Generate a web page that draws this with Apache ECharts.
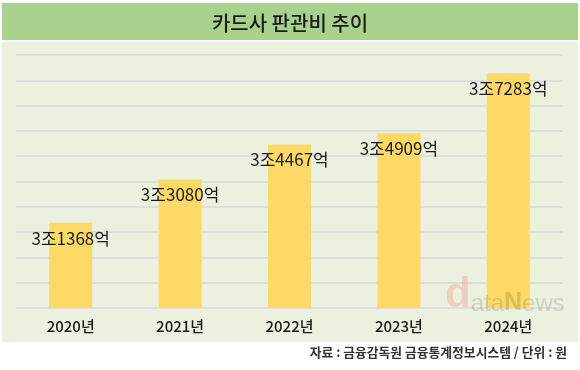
<!DOCTYPE html>
<html>
<head>
<meta charset="utf-8">
<script src="https://cdn.jsdelivr.net/npm/echarts@6/dist/echarts.min.js"></script>
<style>
html,body{margin:0;padding:0;background:#fff;}
#c{width:580px;height:370px;}
</style>
</head>
<body>
<div id="c"></div>
<script>
const categories = ['2020년', '2021년', '2022년', '2023년', '2024년'];
const values = [31368, 33080, 34467, 34909, 37283]; // 단위: 억 원
const titleText = '카드사 판관비 추이';
const sourceText = '자료 : 금융감독원 금융통계정보시스템 / 단위 : 원';

function fmt(v) {
  const jo = Math.floor(v / 10000);
  const eok = v % 10000;
  return jo + '조' + eok + '억';
}

const FONT = '"Noto Sans CJK KR", "Noto Sans", sans-serif';
const WFONT = 'Arial, "Liberation Sans", sans-serif';
const chart = echarts.init(document.getElementById('c'), null, {renderer: 'canvas'});
chart.setOption({
  animation: false,
  backgroundColor: '#ffffff',
  graphic: [
    {type: 'rect', z: -10, shape: {x: 2, y: 3, width: 576, height: 37}, style: {fill: '#a9d18e'}},
    {type: 'rect', z: -10, shape: {x: 2, y: 42, width: 576, height: 300}, style: {fill: '#ebf1de'}},
    {type: 'text', z: 100, left: 445, top: 274, style: {
      text: '{d|d}{g|ata}{n|N}{g|ews}',
      rich: {
        d: {fontSize: 42, fontWeight: 'bold', fontFamily: WFONT, fill: 'rgba(235,130,120,0.3)', verticalAlign: 'bottom'},
        g: {fontSize: 24, fontFamily: WFONT, fill: 'rgba(120,120,120,0.25)', verticalAlign: 'bottom'},
        n: {fontSize: 25, fontWeight: 'bold', fontFamily: WFONT, fill: 'rgba(120,130,40,0.3)', verticalAlign: 'bottom'}
      }
    }},
    {type: 'text', right: 13, top: 346, style: {
      text: sourceText, font: 'bold 12.8px ' + FONT, fill: '#333333'
    }}
  ],
  title: {
    text: titleText, left: 'center', top: 8,
    textStyle: {fontFamily: FONT, fontSize: 20, fontWeight: 500, color: '#1a1a1a'}
  },
  grid: {left: 16, right: 17, top: 55, bottom: 62},
  xAxis: {
    type: 'category', data: categories,
    axisLine: {show: false}, axisTick: {show: false},
    axisLabel: {margin: 11, fontFamily: FONT, fontSize: 15, fontWeight: 500, color: '#1a1a1a'}
  },
  yAxis: {
    type: 'value', min: 28000, max: 38000, interval: 1000,
    axisLabel: {show: false}, axisLine: {show: false}, axisTick: {show: false},
    splitLine: {lineStyle: {color: '#d9d9d9', width: 1.5}}
  },
  series: [{
    type: 'bar', data: values, barWidth: 43,
    itemStyle: {color: '#ffd966'},
    label: {
      show: true, position: 'insideTop', distance: 7,
      formatter: p => fmt(p.value),
      fontFamily: FONT, fontSize: 17, color: '#1a1a1a'
    }
  }]
});
</script>
</body>
</html>
